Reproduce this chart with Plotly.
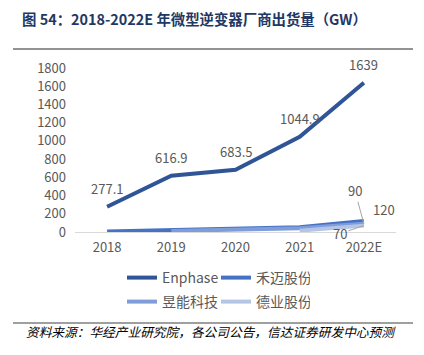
import plotly.graph_objects as go

years = ["2018", "2019", "2020", "2021", "2022E"]
enphase = [277.1, 616.9, 683.5, 1044.9, 1639]
hoymiles = [5, 20, 30, 52, 120]
apsystems = [None, 12, 22, 40, 90]
deye = [None, None, None, 15, 70]
y_ticks = [0, 200, 400, 600, 800, 1000, 1200, 1400, 1600, 1800]

title_text = "图 54：2018-2022E 年微型逆变器厂商出货量（GW）"
source_text = "资料来源：华经产业研究院，各公司公告，信达证券研发中心预测"

# page body has an 8px margin; work in reference-pixel coordinates minus offset
OFF = 8
W, H = 424 - OFF, 355 - OFF
L, R, T, B = 75 - OFF, 28, 68 - OFF, 123
pw, ph = W - L - R, H - T - B


def px_x(p):
    return (p - OFF - L) / pw


def px_y(p):
    return (H - B - (p - OFF)) / ph


gray = "#595959"
font_family = "Noto Sans CJK SC, Noto Sans, sans-serif"

fig = go.Figure()
series = [
    ("Enphase", enphase, "#2F5597", "legend"),
    ("禾迈股份", hoymiles, "#4472C4", "legend"),
    ("昱能科技", apsystems, "#7F9DD8", "legend2"),
    ("德业股份", deye, "#B4C5E6", "legend2"),
]
for name, vals, color, lg in series:
    fig.add_trace(go.Scatter(
        x=years, y=vals, name=name, mode="lines",
        line=dict(color=color, width=4), legend=lg,
    ))

last = len(years) - 1
for i, v in enumerate(enphase):
    fig.add_annotation(x=i, y=v, text=f"{v:g}", showarrow=False, yshift=18,
                       font=dict(size=13, color=gray, family=font_family))

fig.add_annotation(x=last, y=hoymiles[-1], text=f"{hoymiles[-1]:g}", showarrow=False,
                   xshift=20, yshift=12, font=dict(size=13, color=gray, family=font_family))
fig.add_annotation(x=last, y=apsystems[-1], text=f"{apsystems[-1]:g}", showarrow=True,
                   arrowhead=0, arrowwidth=1, arrowcolor="#A6A6A6", ax=-9, ay=-33,
                   font=dict(size=13, color=gray, family=font_family))
fig.add_annotation(x=last, y=deye[-1], text=f"{deye[-1]:g}", showarrow=True,
                   arrowhead=0, arrowwidth=1, arrowcolor="#A6A6A6", ax=-24, ay=8,
                   font=dict(size=13, color=gray, family=font_family))

fig.add_annotation(xref="paper", yref="paper", x=px_x(24), y=px_y(331), xanchor="left",
                   yanchor="middle", showarrow=False,
                   text=f"<i>{source_text}</i>",
                   font=dict(size=12.7, color="#000000", family=font_family))

fig.add_shape(type="line", xref="paper", yref="paper", x0=px_x(13), x1=px_x(413),
              y0=px_y(49), y1=px_y(49), line=dict(color="#262626", width=1))
fig.add_shape(type="line", xref="paper", yref="paper", x0=px_x(13), x1=px_x(413),
              y0=px_y(323), y1=px_y(323), line=dict(color="#7F7F7F", width=1.5))

leg_common = dict(orientation="h", xanchor="left", yanchor="middle",
                  font=dict(size=14, color=gray, family=font_family),
                  bgcolor="rgba(0,0,0,0)", entrywidth=49, entrywidthmode="pixels",
                  tracegroupgap=0, itemwidth=30)

fig.update_layout(
    width=W, height=H,
    margin=dict(l=L, r=R, t=T, b=B),
    plot_bgcolor="white", paper_bgcolor="white",
    title=dict(text=f"<b>{title_text}</b>", x=(22 - OFF) / W, xanchor="left",
               y=1 - (20 - OFF) / H, yanchor="middle",
               font=dict(size=14.4, color="#1F3864", family=font_family)),
    xaxis=dict(type="category", range=[-0.5, len(years) - 0.5], showline=True,
               linecolor="#D9D9D9", linewidth=1, showgrid=False, ticks="",
               ticklabelstandoff=3,
               tickfont=dict(size=13, color=gray, family=font_family)),
    yaxis=dict(range=[0, 1800], tickvals=y_ticks, showgrid=False, zeroline=False,
               showline=False, ticks="", tickfont=dict(size=13, color=gray, family=font_family),
               ticklabelstandoff=8),
    legend=dict(x=px_x(122), y=px_y(278), **leg_common),
    legend2=dict(x=px_x(122), y=px_y(302), **leg_common),
    showlegend=True,
)

fig.write_html("out.html")
